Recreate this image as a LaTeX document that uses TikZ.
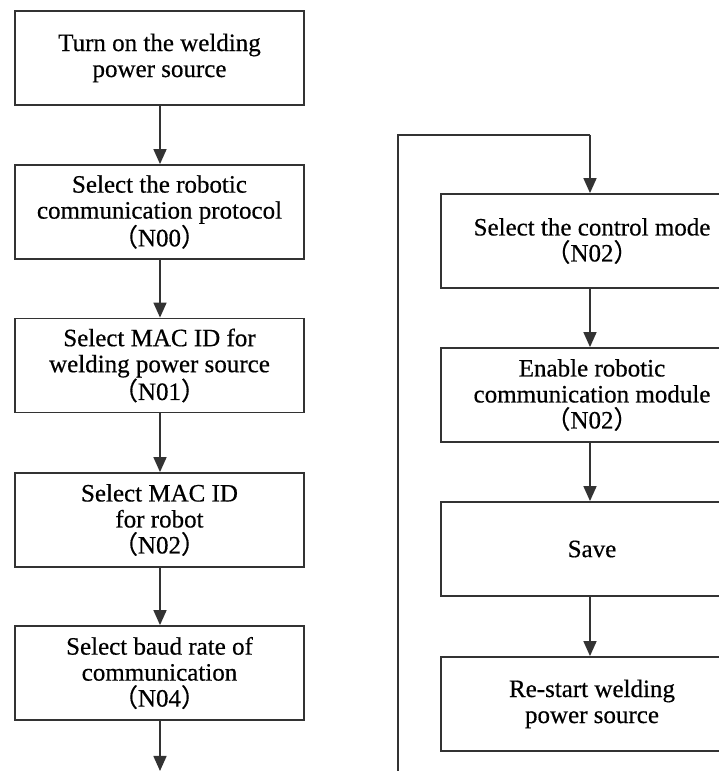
\documentclass[tikz,border=0pt]{standalone}
\usepackage{fontspec}
\setmainfont{Liberation Serif}
\newfontfamily\heavy[FakeBold=0.5]{Liberation Serif}
\newfontfamily\cjk[FakeBold=0.5]{Noto Sans CJK SC}
\usetikzlibrary{arrows.meta}
\newcommand{\lp}{{\cjk （}}
\newcommand{\rp}{{\cjk ）}}
\tikzset{
  stepbox/.style={draw=black!80, line width=1.8pt, minimum width=289pt, minimum height=94pt,
    align=center, inner sep=0pt, font=\heavy\fontsize{25}{26}\selectfont},
  rbox/.style={stepbox, minimum width=302pt},
  flow/.style={draw=black!80, line width=1.6pt, -{Triangle[length=15pt,width=13pt]}},
  wire/.style={draw=black!80, line width=1.6pt}
}
\begin{document}
\begin{tikzpicture}[x=1pt,y=1pt]
\useasboundingbox (0,0) rectangle (719,771);
\clip (0,0) rectangle (719,771);
% left column (y = 771 - image y)
\node[stepbox] (b1) at (159.5,713) {Turn on the welding\\power source};
\node[stepbox] (b2) at (159.5,559) {Select the robotic\\communication protocol\\\lp N00\rp};
\node[stepbox] (b3) at (159.5,405.5) {Select MAC ID for\\welding power source\\\lp N01\rp};
\node[stepbox] (b4) at (159.5,251) {Select MAC ID\\for robot\\\lp N02\rp};
\node[stepbox] (b5) at (159.5,98) {Select baud rate of\\communication\\\lp N04\rp};
% right column
\node[rbox] (r1) at (592,530) {Select the control mode\\\lp N02\rp};
\node[rbox] (r2) at (592,376) {Enable robotic\\communication module\\\lp N02\rp};
\node[rbox] (r3) at (592,222) {Save};
\node[rbox] (r4) at (592,67) {Re-start welding\\power source};
% connectors
\coordinate (lend) at (160,0);
\coordinate (wb) at (398,-2);
\coordinate (wt) at (398,636);
\coordinate (wr) at (590,636);
\draw[flow] (b1.south -| 160,0) -- (b2.north -| 160,0);
\draw[flow] (b2.south -| 160,0) -- (b3.north -| 160,0);
\draw[flow] (b3.south -| 160,0) -- (b4.north -| 160,0);
\draw[flow] (b4.south -| 160,0) -- (b5.north -| 160,0);
\draw[flow] (b5.south -| 160,0) -- (lend);
\draw[wire] (wb) -- (wt) -- (wr);
\draw[flow] (wr) -- (r1.north -| wr);
\draw[flow] (r1.south -| wr) -- (r2.north -| wr);
\draw[flow] (r2.south -| wr) -- (r3.north -| wr);
\draw[flow] (r3.south -| wr) -- (r4.north -| wr);
\end{tikzpicture}
\end{document}
